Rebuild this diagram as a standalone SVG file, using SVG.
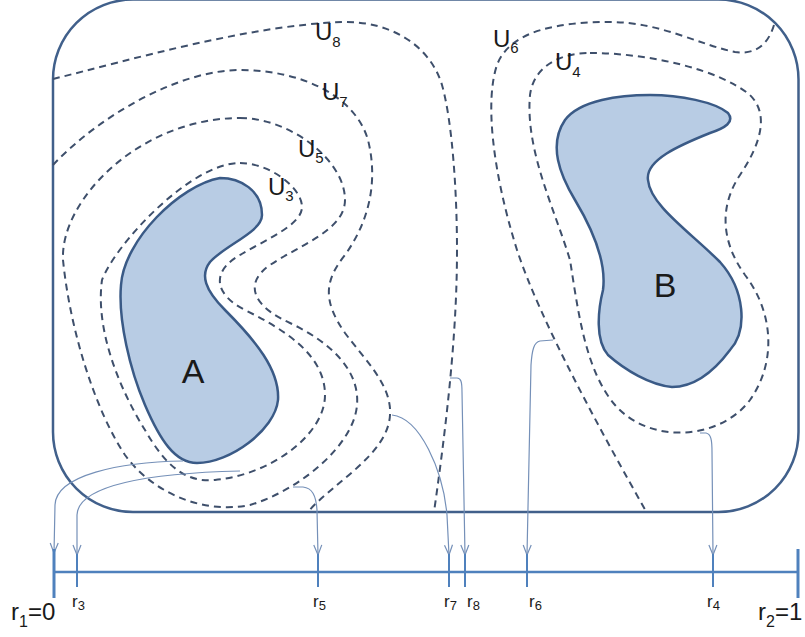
<svg xmlns="http://www.w3.org/2000/svg" width="805" height="637" viewBox="0 0 805 637">
<defs>
<style>
.frame{fill:none;stroke:#41608b;stroke-width:2.5}
.blob{fill:#b8cce4;stroke:#3a5a86;stroke-width:2.5}
.lvl{fill:none;stroke:#3e4f6b;stroke-width:2;stroke-dasharray:7 5}
.conn{fill:none;stroke:#7590b8;stroke-width:1.2;marker-end:url(#vhead)}
.axis{stroke:#4f81bd;stroke-width:2.5;fill:none}
.tick{stroke:#4f81bd;stroke-width:2}
.end{stroke:#4f81bd;stroke-width:3}
text{font-family:"Liberation Sans",Arial,sans-serif;fill:#1a1a1a}
.big{font-size:24px}
.sm{font-size:17px}
.blbl{font-size:34px}
</style>
<marker id="vhead" viewBox="0 0 12 10" refX="11" refY="5" markerWidth="12" markerHeight="10" markerUnits="userSpaceOnUse" orient="auto">
<path d="M1,1 L11,5 L1,9" fill="none" stroke="#7590b8" stroke-width="1.2"/>
</marker>
</defs>
<rect class="frame" x="53" y="-0.5" width="745.5" height="512.5" rx="80" ry="80"/>
<g id="blobA">
<path class="blob" d="M 220,178 C 240,178 262,190 262,215 C 262,232 225,245 210,262 C 200,275 205,290 225,310 C 255,340 280,370 278,400 C 275,430 230,463 197,463 C 175,463 160,440 145,405 C 130,370 118,320 121,285 C 124,240 180,185 220,178 Z"/>
<text class="blbl" x="193" y="383" text-anchor="middle">A</text>
</g>
<g id="blobB">
<path class="blob" d="M 650,95 C 680,95 715,102 728,113 C 735,122 725,128 710,133 C 680,145 645,160 648,180 C 650,205 690,232 720,262 C 745,290 748,330 730,350 C 715,370 695,387 672,387 C 650,385 625,370 608,355 C 595,340 598,310 603,290 C 607,260 590,225 575,200 C 560,175 548,145 565,120 C 580,100 620,95 650,95 Z"/>
<text class="blbl" x="665" y="297" text-anchor="middle">B</text>
</g>
<g id="levels">
<path id="U8" class="lvl" d="M 53,79 C 130,60 250,25 343,22 C 390,21 430,45 442,85 C 452,120 457,190 457,250 C 457,320 450,400 434,512"/>
<path id="U7" class="lvl" d="M 53,165 C 100,115 180,70 240,70 C 300,70 355,95 368,140 C 378,180 370,220 345,255 C 325,280 322,300 345,333 C 365,360 392,385 390,415 C 388,455 330,485 308,512"/>
<path id="U5" class="lvl" d="M 240,118 C 290,118 345,160 345,200 C 345,230 300,245 270,265 C 245,282 250,305 290,323 C 330,342 360,370 357,405 C 354,445 300,490 250,505 C 200,515 150,490 125,455 C 95,410 70,330 63,260 C 60,200 140,118 240,118 Z"/>
<path id="U3" class="lvl" d="M 240,163 C 270,163 302,188 302,207 C 302,225 265,240 240,255 C 210,272 215,295 245,310 C 285,330 325,355 325,395 C 325,435 270,475 215,480 C 185,483 165,465 145,430 C 120,390 95,330 102,280 C 115,245 190,163 240,163 Z"/>
<path id="U6" class="lvl" d="M 774,25 C 768,45 755,55 735,52 C 700,45 660,22 610,22 C 560,22 510,30 497,65 C 485,100 492,170 517,250 C 540,320 600,430 647,513"/>
<path id="U4" class="lvl" d="M 590,53 C 650,53 720,70 750,95 C 770,115 760,145 740,175 C 720,205 720,240 745,275 C 772,310 778,360 750,400 C 720,440 650,445 615,405 C 585,370 578,310 570,260 C 555,210 525,150 530,95 C 533,70 555,53 590,53 Z"/>
</g>
<g id="levelLabels">
<text class="big" x="315" y="40">U<tspan font-size="15" dy="7">8</tspan></text>
<text class="big" x="322" y="100">U<tspan font-size="15" dy="7">7</tspan></text>
<text class="big" x="298" y="157">U<tspan font-size="15" dy="6">5</tspan></text>
<text class="big" x="268" y="195">U<tspan font-size="15" dy="6">3</tspan></text>
<text class="big" x="493" y="47">U<tspan font-size="15" dy="6">6</tspan></text>
<text class="big" x="555" y="70">U<tspan font-size="15" dy="7">4</tspan></text>
</g>
<g id="connectors">
<path class="conn" d="M 183,461 C 120,462 56,475 55,505 L 54,553"/>
<path class="conn" d="M 240,471 C 150,473 78,485 77,515 L 77,555"/>
<path class="conn" d="M 293,487 L 303,487 C 312,488 316,495 317,510 L 318,555"/>
<path class="conn" d="M 392,415 C 420,418 443,470 447,515 L 449,555"/>
<path class="conn" d="M 450,378 L 457,378 C 461,378 462,382 462,392 L 465,555"/>
<path class="conn" d="M 553,340 L 540,341 C 534,342 532,350 531,365 L 527,555"/>
<path class="conn" d="M 700,433 L 706,433 C 711,434 712,440 712,452 L 713,555"/>
</g>
<g id="axis">
<line class="axis" x1="54" y1="572" x2="798" y2="572"/>
<line class="end" x1="54" y1="549" x2="54" y2="598"/>
<line class="end" x1="798" y1="549" x2="798" y2="598"/>
<line class="tick" x1="77" y1="554" x2="77" y2="587"/>
<line class="tick" x1="318" y1="554" x2="318" y2="587"/>
<line class="tick" x1="449" y1="554" x2="449" y2="587"/>
<line class="tick" x1="465" y1="554" x2="465" y2="587"/>
<line class="tick" x1="527" y1="554" x2="527" y2="587"/>
<line class="tick" x1="713" y1="554" x2="713" y2="587"/>
<text class="big" x="11" y="620">r<tspan font-size="16" dy="7">1</tspan><tspan dy="-7">=0</tspan></text>
<text class="big" x="758" y="620">r<tspan font-size="16" dy="7">2</tspan><tspan dy="-7">=1</tspan></text>
<text class="sm" x="72" y="607">r<tspan font-size="13" dy="3">3</tspan></text>
<text class="sm" x="313" y="607">r<tspan font-size="13" dy="3">5</tspan></text>
<text class="sm" x="444" y="607">r<tspan font-size="13" dy="3">7</tspan></text>
<text class="sm" x="467" y="607">r<tspan font-size="13" dy="3">8</tspan></text>
<text class="sm" x="529" y="607">r<tspan font-size="13" dy="3">6</tspan></text>
<text class="sm" x="707" y="607">r<tspan font-size="13" dy="3">4</tspan></text>
</g>
</svg>
